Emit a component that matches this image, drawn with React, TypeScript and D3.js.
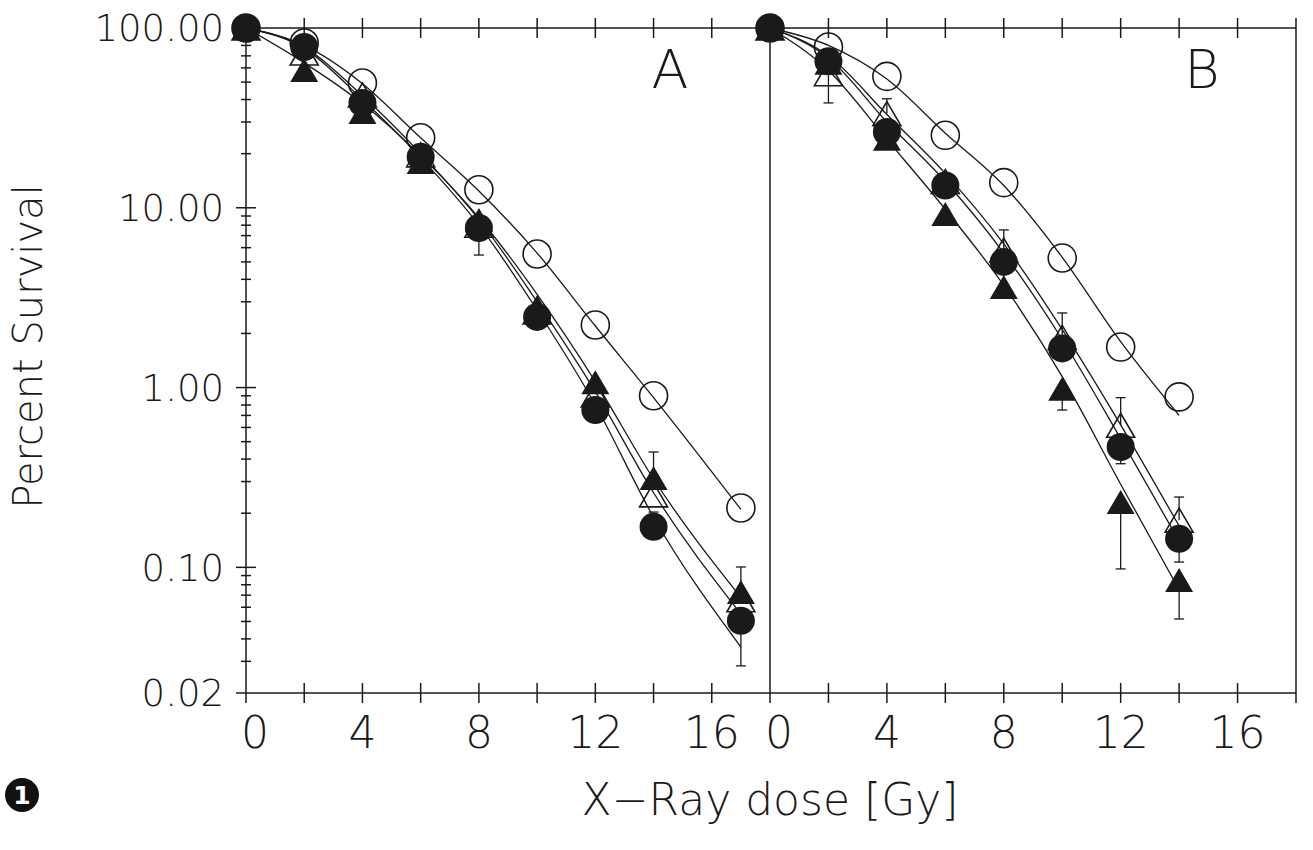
import React from "react";
import * as d3 from "d3";

// doses (Gy)
const dosesA = [0, 2, 4, 6, 8, 10, 12, 14, 17];
const dosesB = [0, 2, 4, 6, 8, 10, 12, 14];

// panel A, percent survival
const openCircleA = [100, 82.5, 49.4, 24.5, 12.6, 5.53, 2.23, 0.9, 0.214];
const filledCircleA = [100, 78.4, 38.3, 19.2, 7.72, 2.47, 0.75, 0.168, 0.0504];
const filledTriangleA = [100, 58.4, 34.1, 18.0, 8.55, 2.81, 1.07, 0.314, 0.073];
const openTriangleA = [100, 72.6, 42.4, 19.7, 8.0, 2.63, 0.91, 0.253, 0.066];

// panel A, fitted curves
const fitOpenCircleA = [100, 80, 49, 24.5, 12.4, 5.6, 2.2, 0.88, 0.21];
const fitFilledCircleA = [100, 77, 40, 19, 8.0, 2.7, 0.8, 0.19, 0.036];
const fitOpenTriangleA = [100, 78, 42, 20, 8.6, 3.0, 0.95, 0.26, 0.055];
const fitFilledTriangleA = [100, 64, 38, 19.5, 8.8, 3.3, 1.08, 0.31, 0.068];

// panel B, percent survival
const openCircleB = [100, 78.4, 53.8, 25.3, 13.8, 5.26, 1.68, 0.887];
const filledCircleB = [100, 65.3, 26.4, 13.3, 5.0, 1.65, 0.467, 0.144];
const filledTriangleB = [100, 64, 24.2, 9.24, 3.63, 0.986, 0.231, 0.085];
const openTriangleB = [100, 55.7, 33.4, 14, 5.82, 1.9, 0.617, 0.183];

// panel B, fitted curves
const fitOpenCircleB = [100, 80, 52, 26, 13.3, 5.3, 1.8, 0.7];
const fitFilledCircleB = [100, 68, 30, 14, 5.6, 1.85, 0.52, 0.14];
const fitOpenTriangleB = [100, 70, 33, 15.5, 6.3, 2.1, 0.62, 0.17];
const fitFilledTriangleB = [100, 58, 24, 9.8, 3.7, 1.15, 0.29, 0.075];

// error bars: [series, dose, low, high]
const errorsA: [string, number, number | null, number | null][] = [
  ["filledCircle", 8, 5.46, null],
  ["filledCircle", 14, null, 0.203],
  ["filledCircle", 17, 0.0283, null],
  ["filledTriangle", 14, null, 0.438],
  ["filledTriangle", 17, null, 0.1005],
];
const errorsB: [string, number, number | null, number | null][] = [
  ["openTriangle", 2, 38.3, null],
  ["openTriangle", 4, null, 40.4],
  ["openTriangle", 8, null, 7.53],
  ["filledCircle", 10, null, 2.6],
  ["filledTriangle", 10, 0.75, null],
  ["openTriangle", 12, null, 0.879],
  ["filledCircle", 12, 0.377, null],
  ["filledTriangle", 12, 0.098, null],
  ["openTriangle", 14, null, 0.246],
  ["filledCircle", 14, 0.107, null],
  ["filledTriangle", 14, 0.0516, null],
];

const yTickValues = [100, 10, 1, 0.1, 0.02];
const yTickLabels = ["100.00", "10.00", "1.00", "0.10", "0.02"];
const xTickValues = [0, 4, 8, 12, 16];
const xTickLabels = ["0", "4", "8", "12", "16"];

const W = 1313;
const H = 850;
const top = 28;
const bottom = 693;
const font = "'DejaVu Sans ExtraLight', 'DejaVu Sans', sans-serif";
const ink = "#1a1a1a";

const y = d3.scaleLog().domain([0.02, 100]).range([bottom, top]);
const xA = d3.scaleLinear().domain([0, 18]).range([246, 770]);
const xB = d3.scaleLinear().domain([0, 18]).range([770, 1296]);

const minorTicks = d3.range(-2, 2).flatMap((e) =>
  d3.range(2, 10).map((m) => m * Math.pow(10, e))
).filter((v) => v > 0.02 && v < 100);

function tri(cx: number, cy: number) {
  return `M${cx},${cy - 12}L${cx + 14},${cy + 12}L${cx - 14},${cy + 12}Z`;
}

type PanelProps = {
  x: d3.ScaleLinear<number, number>;
  doses: number[];
  openCircle: number[];
  filledCircle: number[];
  filledTriangle: number[];
  openTriangle: number[];
  fits: number[][];
  errors: [string, number, number | null, number | null][];
};

function Panel({ x, doses, openCircle, filledCircle, filledTriangle, openTriangle, fits, errors }: PanelProps) {
  const line = d3
    .line<number>()
    .x((_, i) => x(doses[i]))
    .y((d) => y(d))
    .curve(d3.curveMonotoneX);
  const series: Record<string, number[]> = { openCircle, filledCircle, filledTriangle, openTriangle };
  return (
    <g>
      {fits.map((f, i) => (
        <path key={i} d={line(f) || ""} fill="none" stroke={ink} strokeWidth={1.3} />
      ))}
      {errors.map(([s, dose, lo, hi], i) => {
        const v = series[s][doses.indexOf(dose)];
        const cx = x(dose);
        const end = lo != null ? lo : (hi as number);
        return (
          <g key={i} stroke={ink} strokeWidth={1.3}>
            <line x1={cx} x2={cx} y1={y(v)} y2={y(end)} />
            <line x1={cx - 5} x2={cx + 5} y1={y(end)} y2={y(end)} />
          </g>
        );
      })}
      {openCircle.map((v, i) => (
        <circle key={"oc" + i} cx={x(doses[i])} cy={y(v)} r={14} fill="none" stroke={ink} strokeWidth={1.6} />
      ))}
      {openTriangle.map((v, i) => (
        <path key={"ot" + i} d={tri(x(doses[i]), y(v))} fill="none" stroke={ink} strokeWidth={1.6} />
      ))}
      {filledTriangle.map((v, i) => (
        <path key={"ft" + i} d={tri(x(doses[i]), y(v))} fill={ink} />
      ))}
      {filledCircle.map((v, i) => (
        <circle key={"fc" + i} cx={x(doses[i])} cy={y(v)} r={14} fill={ink} />
      ))}
    </g>
  );
}

export default function App() {
  const gridTicks = d3.range(2, 18, 2);
  return (
    <svg
      width={W}
      height={H}
      style={{ position: "absolute", left: 0, top: 0, background: "#fff" }}
      fontFamily={font}
      fontWeight={200}
    >
      <rect width={W} height={H} fill="#fff" />
      {/* frame */}
      <g stroke={ink} strokeWidth={1.5}>
        <line x1={xA(0)} x2={xB(18)} y1={top} y2={top} />
        <line x1={236} x2={xB(18)} y1={bottom} y2={bottom} />
        <line x1={xA(0)} x2={xA(0)} y1={top} y2={bottom + 10} />
        <line x1={xB(0)} x2={xB(0)} y1={top - 10} y2={bottom + 10} />
        <line x1={xB(18)} x2={xB(18)} y1={top - 10} y2={bottom + 10} />
        {[xA, xB].map((x, k) =>
          gridTicks.map((t) => (
            <g key={k + "-" + t}>
              <line x1={x(t)} x2={x(t)} y1={top - 10} y2={top + 10} />
              <line x1={x(t)} x2={x(t)} y1={bottom - 10} y2={bottom + 10} />
            </g>
          ))
        )}
        {yTickValues.slice(0, 4).map((v) => (
          <line key={v} x1={xA(0) - 10} x2={xA(0) + 10} y1={y(v)} y2={y(v)} />
        ))}
        {minorTicks.map((v) => (
          <line key={v} x1={xA(0) - 5} x2={xA(0) + 5} y1={y(v)} y2={y(v)} />
        ))}
      </g>
      {/* y tick labels */}
      {yTickValues.map((v, i) => (
        <text key={v} x={224} y={y(v)} dy="0.36em" textAnchor="end" fontSize={37} fill={ink}>
          {yTickLabels[i]}
        </text>
      ))}
      {/* x tick labels */}
      {[xA, xB].map((x, k) =>
        xTickValues.map((t, i) => (
          <text
            key={k + "-" + t}
            x={x(t) + (t === 0 ? 9 : 0)}
            y={748}
            textAnchor="middle"
            fontSize={44}
            fill={ink}
          >
            {xTickLabels[i]}
          </text>
        ))
      )}
      <Panel
        x={xA}
        doses={dosesA}
        openCircle={openCircleA}
        filledCircle={filledCircleA}
        filledTriangle={filledTriangleA}
        openTriangle={openTriangleA}
        fits={[fitOpenCircleA, fitFilledCircleA, fitOpenTriangleA, fitFilledTriangleA]}
        errors={errorsA}
      />
      <Panel
        x={xB}
        doses={dosesB}
        openCircle={openCircleB}
        filledCircle={filledCircleB}
        filledTriangle={filledTriangleB}
        openTriangle={openTriangleB}
        fits={[fitOpenCircleB, fitFilledCircleB, fitOpenTriangleB, fitFilledTriangleB]}
        errors={errorsB}
      />
      <text x={670} y={88} textAnchor="middle" fontSize={54} fill={ink}>A</text>
      <text x={1202} y={88} textAnchor="middle" fontSize={54} fill={ink}>B</text>
      <text
        transform={`translate(42,${(bottom + top) / 2 - 14}) rotate(-90)`}
        textAnchor="middle"
        fontSize={40}
        fill={ink}
      >
        Percent Survival
      </text>
      <text x={770} y={815} textAnchor="middle" fontSize={44} fill={ink}>
        X−Ray dose [Gy]
      </text>
      <circle cx={22} cy={795} r={17} fill="#111" />
      <text x={22} y={795} dy="0.36em" textAnchor="middle" fontSize={25} fontWeight={700} fill="#fff" fontFamily="'DejaVu Sans', sans-serif">
        1
      </text>
    </svg>
  );
}
